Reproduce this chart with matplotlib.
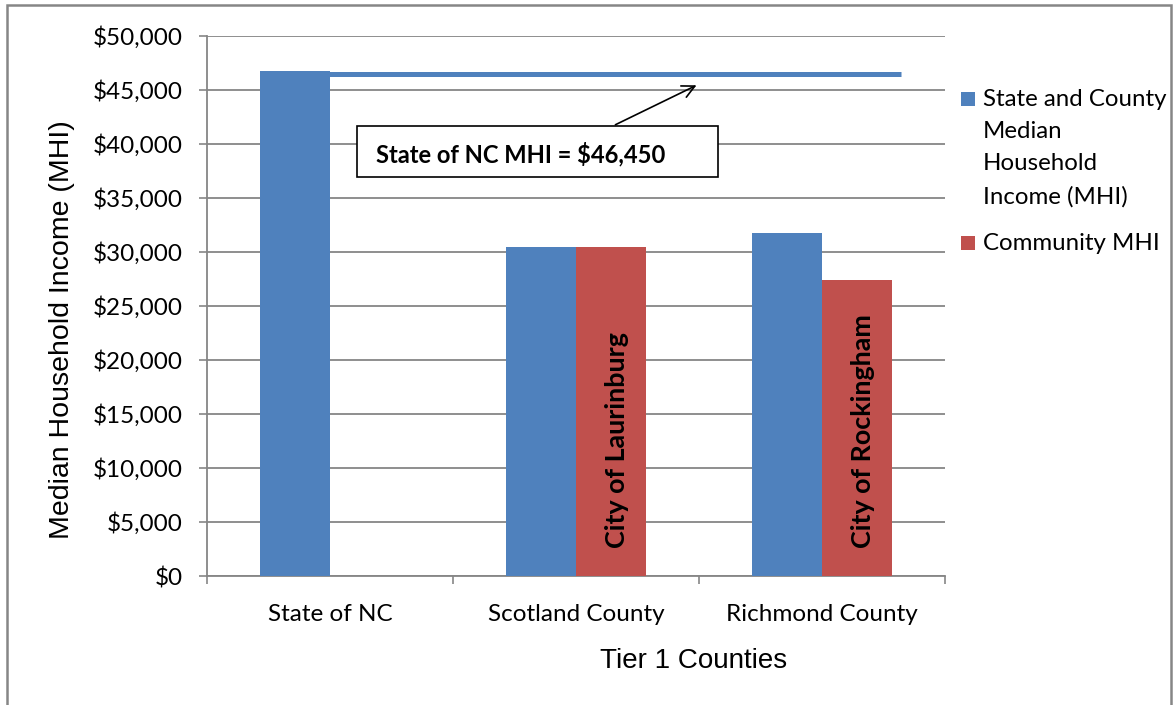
import matplotlib.pyplot as plt
from matplotlib.patches import Rectangle
import numpy as np

categories = ['State of NC', 'Scotland County', 'Richmond County']
county_mhi = [46750, 30490, 31730]
community_mhi = [np.nan, 30430, 27380]
community_names = [None, 'City of Laurinburg', 'City of Rockingham']
nc_mhi = 46450
y_ticks = np.arange(0, 50001, 5000)

blue = '#4F81BD'
red = '#C0504D'
grey = '#868686'
calibri = ['Lato', 'DejaVu Sans']
arial = ['Liberation Sans Narrow', 'Liberation Sans', 'DejaVu Sans']

W, H = 1174, 705
fig = plt.figure(figsize=(W / 100, H / 100), dpi=100)
ax = fig.add_axes([207 / W, 1 - 576 / H, (945 - 207) / W, 540 / H])

x = np.arange(len(categories))
w = 0.285
ax.bar(x - w / 2, county_mhi, w, color=blue, zorder=3,
       label='State and County\nMedian\nHousehold\nIncome (MHI)')
ax.bar(x + w / 2, community_mhi, w, color=red, zorder=3, label='Community MHI')

# city names inside the red bars
for xi, name in zip(x, community_names):
    if name:
        ax.text(xi + w / 2 + 0.025, 2600, name, rotation=90, ha='center', va='bottom',
                fontsize=19.4, fontweight='bold', family=calibri, zorder=4)

# state MHI line + callout
ax.plot([x[0] - w, 2.32], [nc_mhi, nc_mhi], color=blue, lw=3.6, zorder=4,
        solid_capstyle='butt')
ax.add_patch(Rectangle((0.11, 36940), 1.467, 4730, facecolor='white',
                       edgecolor='black', lw=1.2, zorder=5))
ax.text(0.187, 38330, 'State of NC MHI = ${:,}'.format(nc_mhi), fontsize=17.1,
        fontweight='bold', family=calibri, va='baseline', zorder=6)
ax.annotate('', xy=(1.5, 45550), xytext=(1.15, 41670),
            arrowprops=dict(arrowstyle='->,head_length=0.9,head_width=0.45',
                            color='black', lw=1.2), zorder=6)

ax.set_xlim(-0.5, 2.5)
ax.set_ylim(0, 50000)
ax.set_yticks(y_ticks)
ax.set_yticklabels(['${:,}'.format(v) for v in y_ticks], family=calibri, fontsize=17.5)
ax.set_xticks(x)
ax.set_xticklabels(categories, family=calibri, fontsize=17.5)
ax.set_xticks([-0.5, 0.5, 1.5, 2.5], minor=True)
ax.tick_params(axis='x', which='major', length=0, pad=20)
ax.tick_params(axis='x', which='minor', length=5.5, color=grey, width=1.2)
ax.tick_params(axis='y', length=5.5, color=grey, width=1.2, pad=12)
ax.grid(axis='y', color=grey, lw=1.3, zorder=0)
for s in ['top', 'right']:
    ax.spines[s].set_visible(False)
for s in ['left', 'bottom']:
    ax.spines[s].set_color(grey)
    ax.spines[s].set_linewidth(1.3)

ax.set_ylabel('Median Household Income (MHI)', family=arial, fontsize=20.5)
ax.yaxis.set_label_coords((75 - 207) / (945 - 207), (576 - 330) / 540)
fig.text(694 / W, 1 - 661 / H, 'Tier 1 Counties', family=arial, fontsize=20,
         ha='center', va='center')

# legend
handles, labels = ax.get_legend_handles_labels()
leg_y = [99, 243]
for (h, lab, yy) in zip(handles, labels, leg_y):
    fig.patches.append(Rectangle((961 / W, 1 - (yy + 7) / H), 14 / W, 14 / H,
                                 transform=fig.transFigure, facecolor=h.patches[0].get_facecolor(),
                                 edgecolor='none'))
    fig.text(983 / W, 1 - (yy - 10) / H, lab, family=calibri, fontsize=17.3,
             va='top', ha='left', linespacing=1.66)

# outer chart border
fig.patches.append(Rectangle((7 / W, -0.02), 1164 / W, 1.02 - 5 / H,
                             transform=fig.transFigure, fill=False, edgecolor=grey, lw=1.8))

fig.savefig('out.png', dpi=100)
